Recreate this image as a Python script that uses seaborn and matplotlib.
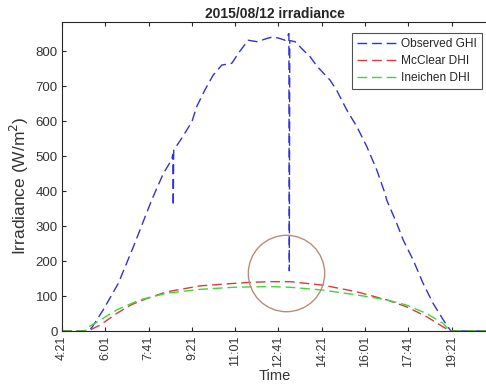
import matplotlib
matplotlib.use("Agg")
import matplotlib.pyplot as plt
import seaborn as sns
import pandas as pd

# Observed global horizontal irradiance (local clock time, W/m^2)
ghi_time = ["4:21", "5:11", "5:21", "5:30", "5:56", "6:31", "7:06", "7:48", "8:15",
            "8:34", "8:37", "8:38", "8:39", "8:57", "9:21", "9:32", "9:51", "10:10",
            "10:30", "10:53", "11:12", "11:31", "11:51", "12:02", "12:14", "12:29",
            "12:44", "12:56", "13:05", "13:06", "13:07", "13:19", "13:27", "13:38",
            "13:54", "14:09", "14:40", "14:55", "15:19", "15:42", "16:05", "16:28",
            "16:47", "16:51", "17:14", "17:29", "17:52", "18:15", "18:38", "19:02",
            "19:19", "20:41"]
ghi_obs = [0, 0, 0, 10, 60, 136, 241, 374, 450,
           489, 505, 358, 517, 550, 598, 641, 689, 731,
           760, 765, 800, 831, 827, 831, 836, 841,
           836, 831, 850, 172, 830, 827, 817, 803,
           784, 758, 717, 689, 631, 584, 527, 460,
           393, 374, 308, 260, 203, 136, 79, 31,
           0, 0]

# Clear-sky diffuse horizontal irradiance, McClear model
mcclear_time = ["4:21", "5:21", "5:26", "5:49", "6:27", "7:01", "7:37", "8:23", "9:40",
                "10:57", "11:35", "12:21", "13:08", "14:24", "15:42", "16:51", "17:37",
                "18:23", "19:01", "19:17", "20:41"]
mcclear_dhi = [0, 0, 3, 17, 50, 75, 93, 112, 129,
               136, 139, 141, 141, 131, 112, 89, 69,
               41, 12, 0, 0]

# Clear-sky diffuse horizontal irradiance, Ineichen model
ineichen_time = ["4:21", "5:13", "5:18", "5:49", "6:27", "7:21", "8:23", "9:40",
                 "10:57", "11:35", "12:21", "13:08", "14:24", "15:42", "16:51", "17:37",
                 "18:23", "19:01", "19:17", "20:41"]
ineichen_dhi = [0, 0, 8, 31, 60, 89, 108, 119,
                125, 126, 127, 125, 117, 103, 89, 74,
                50, 22, 0, 0]

tick_labels = ["4:21", "6:01", "7:41", "9:21", "11:01", "12:41",
               "14:21", "16:01", "17:41", "19:21"]
y_ticks = [0, 100, 200, 300, 400, 500, 600, 700, 800]

# Highlighted anomaly (clock time, irradiance)
anomaly_time = "12:58"
anomaly_value = 167


def to_minutes(clock):
    h, m = clock.split(":")
    return int(h) * 60 + int(m)


sns.set_theme(style="white")
plt.rcParams["font.family"] = ["Liberation Sans", "DejaVu Sans"]
plt.rcParams.update({
    "axes.edgecolor": "#262626",
    "axes.linewidth": 0.8,
    "xtick.direction": "in",
    "ytick.direction": "in",
    "xtick.color": "#262626",
    "ytick.color": "#262626",
    "xtick.labelcolor": "#333333",
    "ytick.labelcolor": "#333333",
    "xtick.major.size": 3,
    "ytick.major.size": 3,
    "xtick.major.width": 0.8,
    "ytick.major.width": 0.8,
    "text.color": "#262626",
    "axes.labelcolor": "#333333",
})

fig = plt.figure(figsize=(4.86, 3.85), dpi=100)
ax = fig.add_axes([62 / 486, 1 - 331 / 385, (487.2 - 62) / 486, (331 - 21.7) / 385])

dash = (0, (7, 3.5))
series = [
    (ghi_time, ghi_obs, "Observed GHI", "#3131d4"),
    (mcclear_time, mcclear_dhi, "McClear DHI", "#e03838"),
    (ineichen_time, ineichen_dhi, "Ineichen DHI", "#3ad83a"),
]
for times, vals, name, col in series:
    df = pd.DataFrame({"Time": [to_minutes(t) for t in times], "Irradiance": vals})
    sns.lineplot(data=df, x="Time", y="Irradiance", ax=ax, color=col, label=name,
                 linestyle=dash, linewidth=1.0, estimator=None, sort=False)

ax.plot([to_minutes(anomaly_time)], [anomaly_value], marker="o", markersize=55,
        markerfacecolor="none", markeredgecolor="#b88d75", markeredgewidth=1.0,
        linestyle="none")

start = to_minutes("4:21")
ax.set_xlim(start, start + 982)
ax.set_ylim(0, 884)
ax.set_xticks([to_minutes(t) for t in tick_labels])
ax.set_xticklabels(tick_labels, rotation=90, fontsize=9)
ax.set_yticks(y_ticks)
ax.set_yticklabels([str(v) for v in y_ticks], fontsize=9.5)
ax.tick_params(axis="x", top=True, bottom=True, pad=3)
ax.tick_params(axis="y", left=True, right=False, pad=3)
for side in ["top", "bottom", "left"]:
    ax.spines[side].set_visible(True)

ax.set_xlabel("Time", fontsize=10.5, labelpad=2)
ax.set_ylabel("Irradiance (W/m$^2$)", fontsize=12.5)
ax.yaxis.set_label_coords(-0.072, 0.47)
ax.set_title("2015/08/12 irradiance", fontsize=10, fontweight="bold", pad=3)

leg = ax.legend(loc="upper right", bbox_to_anchor=(482 / 486, 1 - 33 / 385),
                bbox_transform=fig.transFigure, borderaxespad=0, fontsize=8.6,
                handlelength=3.3, handletextpad=0.35, labelspacing=0.4,
                borderpad=0.45, fancybox=False, frameon=True)
leg.get_frame().set_edgecolor("#262626")
leg.get_frame().set_linewidth(0.8)

fig.savefig("out.png", dpi=100)
